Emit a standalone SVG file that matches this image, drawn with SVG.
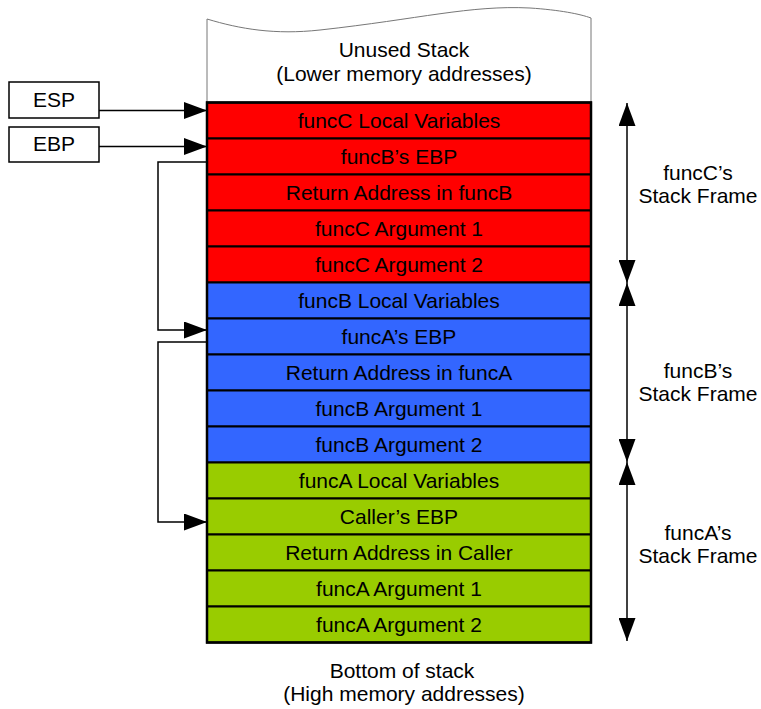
<svg xmlns="http://www.w3.org/2000/svg" width="761" height="709" viewBox="0 0 761 709">
<style>
text{font-family:"Liberation Sans",Arial,sans-serif;font-size:21px;fill:#000;text-anchor:middle}
.row text{dominant-baseline:central}
.red rect{fill:#ff0000;stroke:#000;stroke-width:2}
.blue rect{fill:#3366ff;stroke:#000;stroke-width:2}
.green rect{fill:#99cc00;stroke:#000;stroke-width:2}
.reg rect{fill:#fff;stroke:#000;stroke-width:1.5}
.conn{fill:none;stroke:#000;stroke-width:1.5}
</style>
<defs>
<marker id="ah" viewBox="0 0 23 17" refX="23" refY="8.5" markerWidth="23" markerHeight="17" markerUnits="userSpaceOnUse" orient="auto-start-reverse">
<path d="M0,0 L23,8.5 L0,17 z" fill="#000"/>
</marker>
</defs>
<rect width="761" height="709" fill="#fff"/>
<g id="unused">
<path d="M207,102.5 L207,19 C240,29 275,35 320,30 C420,19 470,5 530,8 C560,10 580,14 591,18 L591,102.5" fill="#fff" stroke="#777" stroke-width="1"/>
<text x="404" y="57">Unused Stack</text>
<text x="404" y="81">(Lower memory addresses)</text>
</g>
<g id="r1" class="row red"><rect x="207" y="102.5" width="384" height="36"/><text x="399" y="120">funcC Local Variables</text></g>
<g id="r2" class="row red"><rect x="207" y="138.5" width="384" height="36"/><text x="399" y="156">funcB’s EBP</text></g>
<g id="r3" class="row red"><rect x="207" y="174.5" width="384" height="36"/><text x="399" y="192">Return Address in funcB</text></g>
<g id="r4" class="row red"><rect x="207" y="210.5" width="384" height="36"/><text x="399" y="228">funcC Argument 1</text></g>
<g id="r5" class="row red"><rect x="207" y="246.5" width="384" height="36"/><text x="399" y="264">funcC Argument 2</text></g>
<g id="r6" class="row blue"><rect x="207" y="282.5" width="384" height="36"/><text x="399" y="300">funcB Local Variables</text></g>
<g id="r7" class="row blue"><rect x="207" y="318.5" width="384" height="36"/><text x="399" y="336">funcA’s EBP</text></g>
<g id="r8" class="row blue"><rect x="207" y="354.5" width="384" height="36"/><text x="399" y="372">Return Address in funcA</text></g>
<g id="r9" class="row blue"><rect x="207" y="390.5" width="384" height="36"/><text x="399" y="408">funcB Argument 1</text></g>
<g id="r10" class="row blue"><rect x="207" y="426.5" width="384" height="36"/><text x="399" y="444">funcB Argument 2</text></g>
<g id="r11" class="row green"><rect x="207" y="462.5" width="384" height="36"/><text x="399" y="480">funcA Local Variables</text></g>
<g id="r12" class="row green"><rect x="207" y="498.5" width="384" height="36"/><text x="399" y="516">Caller’s EBP</text></g>
<g id="r13" class="row green"><rect x="207" y="534.5" width="384" height="36"/><text x="399" y="552">Return Address in Caller</text></g>
<g id="r14" class="row green"><rect x="207" y="570.5" width="384" height="36"/><text x="399" y="588">funcA Argument 1</text></g>
<g id="r15" class="row green"><rect x="207" y="606.5" width="384" height="36"/><text x="399" y="624">funcA Argument 2</text></g>
<rect x="207" y="102.5" width="384" height="540" fill="none" stroke="#000" stroke-width="2.5"/>
<g id="esp" class="reg"><rect x="9" y="82" width="90" height="36"/><text x="54" y="107">ESP</text></g>
<g id="ebp" class="reg"><rect x="9" y="127" width="90" height="35"/><text x="54" y="151">EBP</text></g>
<g id="connectors" class="conn">
<path d="M99,110.5 H207" marker-end="url(#ah)"/>
<path d="M99,146.5 H207" marker-end="url(#ah)"/>
<path d="M207,162 H158 V330 H207" marker-end="url(#ah)"/>
<path d="M207,342 H158 V522 H207" marker-end="url(#ah)"/>
<path d="M627,103 V283" marker-start="url(#ah)" marker-end="url(#ah)"/>
<path d="M627,283 V462" marker-start="url(#ah)" marker-end="url(#ah)"/>
<path d="M627,462 V641" marker-start="url(#ah)" marker-end="url(#ah)"/>
</g>
<g id="frameC"><text x="698" y="180">funcC’s</text><text x="698" y="203">Stack Frame</text></g>
<g id="frameB"><text x="698" y="378">funcB’s</text><text x="698" y="401">Stack Frame</text></g>
<g id="frameA"><text x="698" y="540">funcA’s</text><text x="698" y="563">Stack Frame</text></g>
<g id="bottom"><text x="402" y="678">Bottom of stack</text><text x="404" y="701">(High memory addresses)</text></g>
</svg>
